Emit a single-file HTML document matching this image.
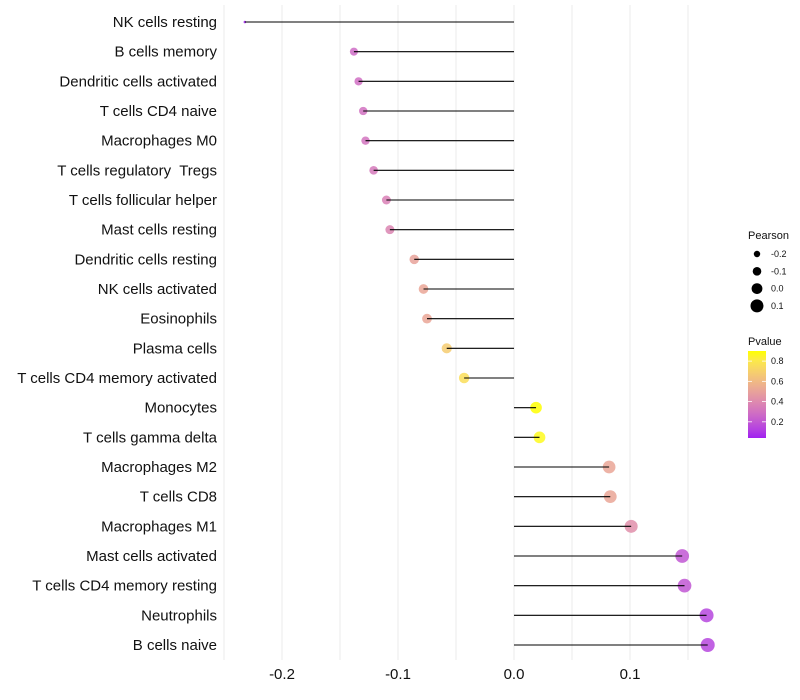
<!DOCTYPE html>
<html><head><meta charset="utf-8"><style>
body{margin:0;background:#fff;}
svg{display:block;font-family:"Liberation Sans",sans-serif;}
</style></head><body>
<svg id="chart" width="800" height="700">
<defs>
<linearGradient id="pgrad" x1="0" y1="1" x2="0" y2="0"></linearGradient>
</defs>
<g id="grid"></g>
<g id="marks"></g>
<g id="axes"></g>
<g id="legend"></g>
</svg>
<script>
const categories = ["NK cells resting","B cells memory","Dendritic cells activated","T cells CD4 naive","Macrophages M0","T cells regulatory  Tregs","T cells follicular helper","Mast cells resting","Dendritic cells resting","NK cells activated","Eosinophils","Plasma cells","T cells CD4 memory activated","Monocytes","T cells gamma delta","Macrophages M2","T cells CD8","Macrophages M1","Mast cells activated","T cells CD4 memory resting","Neutrophils","B cells naive"];
const pearson = [-0.232,-0.138,-0.134,-0.130,-0.128,-0.121,-0.110,-0.107,-0.086,-0.078,-0.075,-0.058,-0.043,0.019,0.022,0.082,0.083,0.101,0.145,0.147,0.166,0.167];
const pvalue = [0.04,0.28,0.29,0.30,0.31,0.33,0.36,0.38,0.50,0.52,0.52,0.68,0.76,0.90,0.88,0.52,0.52,0.42,0.20,0.20,0.14,0.14];
const xTicks = [-0.2,-0.1,0.0,0.1];
const xGrid = [-0.25,-0.2,-0.15,-0.1,-0.05,0,0.05,0.1,0.15];
const sizeLegendValues = [-0.2,-0.1,0.0,0.1];
const colorLegendValues = [0.2,0.4,0.6,0.8];

const NS="http://www.w3.org/2000/svg";
function mk(tag,attrs,parent){const e=document.createElementNS(NS,tag);for(const k in attrs)e.setAttribute(k,attrs[k]);parent.appendChild(e);return e;}
const x = v => 514 + v*1160;
const y = i => 22 + i*(623/21);
function toLab(r,g,b){const f=c=>{c/=255;return c<=0.04045?c/12.92:Math.pow((c+0.055)/1.055,2.4);};
 let R=f(r),G=f(g),B=f(b);let X=(R*0.4124+G*0.3576+B*0.1805)/0.95047,Y=R*0.2126+G*0.7152+B*0.0722,Z=(R*0.0193+G*0.1192+B*0.9505)/1.08883;
 const h=t=>t>0.008856?Math.cbrt(t):7.787*t+16/116;return [116*h(Y)-16,500*(h(X)-h(Y)),200*(h(Y)-h(Z))];}
function fromLab(L,a,bb){let fy=(L+16)/116,fx=fy+a/500,fz=fy-bb/200;const g=t=>t*t*t>0.008856?t*t*t:(t-16/116)/7.787;
 let X=g(fx)*0.95047,Y=g(fy),Z=g(fz)*1.08883;let R=X*3.2406+Y*-1.5372+Z*-0.4986,G=X*-0.9689+Y*1.8758+Z*0.0415,B=X*0.0557+Y*-0.2040+Z*1.0570;
 const c=v=>{v=v<=0.0031308?12.92*v:1.055*Math.pow(v,1/2.4)-0.055;return Math.max(0,Math.min(255,Math.round(v*255)));};return `rgb(${c(R)},${c(G)},${c(B)})`;}
const lowLab=toLab(160,32,240),highLab=toLab(255,255,0);
const pMin=0.04,pMax=0.9;
function col(p){let t=Math.max(0,Math.min(1,(p-pMin)/(pMax-pMin)));return fromLab(...lowLab.map((v,i)=>v+(highLab[i]-v)*t));}
const vMin=Math.min(...pearson),vMax=Math.max(...pearson);
function rad(v){let t=Math.max(0,(v-vMin)/(vMax-vMin));return 1.3+5.7*Math.sqrt(t);}

const grid=document.getElementById('grid');
xGrid.forEach(v=>{const l=mk('line',{x1:x(v),x2:x(v),y1:5,y2:660,stroke:'#ebebeb','stroke-width':1},grid);

});

const marks=document.getElementById('marks');
categories.forEach((c,i)=>{
 const g=mk('g',{},marks);
 
 
 const d=mk('circle',{cx:x(pearson[i]),cy:y(i),r:rad(pearson[i]),fill:col(pvalue[i]),'fill-opacity':0.85},g);
 
 
 const s=mk('line',{x1:x(0),x2:x(pearson[i]),y1:y(i),y2:y(i),stroke:'#000','stroke-width':1.1},g);
 
 
});

const axes=document.getElementById('axes');
categories.forEach((c,i)=>{const t=mk('text',{x:217,y:y(i)+5,'text-anchor':'end','font-size':15,fill:'#111','xml:space':'preserve'},axes);t.textContent=c;
t.style.whiteSpace='pre';

});
xTicks.forEach(v=>{const t=mk('text',{x:x(v),y:679,'text-anchor':'middle','font-size':15,fill:'#111'},axes);t.textContent=v.toFixed(1);

});

const lg=document.getElementById('legend');
let t=mk('text',{x:748,y:239,'font-size':11,fill:'#111'},lg);t.textContent='Pearson';


sizeLegendValues.forEach((v,i)=>{const yy=254+i*17.3;
 const c=mk('circle',{cx:757,cy:yy,r:3.2+i*1.1,fill:'#000'},lg);
 
 
 const tt=mk('text',{x:771,y:yy+3,'font-size':9,fill:'#111'},lg);tt.textContent=v.toFixed(1);
 
 });
t=mk('text',{x:748,y:345,'font-size':11,fill:'#111'},lg);t.textContent='Pvalue';


const grad=document.getElementById('pgrad');
for(let k=0;k<=10;k++){mk('stop',{offset:k/10,'stop-color':col(pMin+(pMax-pMin)*k/10)},grad);}
const barTop=351,barBot=438;
const py=p=>barBot-(p-pMin)/(pMax-pMin)*(barBot-barTop);
const bar=mk('rect',{x:748,y:barTop,width:18,height:barBot-barTop,fill:'url(#pgrad)'},lg);


colorLegendValues.forEach(p=>{
 mk('line',{x1:748,x2:752,y1:py(p),y2:py(p),stroke:'#fff','stroke-width':0.8},lg);
 mk('line',{x1:762,x2:766,y1:py(p),y2:py(p),stroke:'#fff','stroke-width':0.8},lg);
 const tt=mk('text',{x:771,y:py(p)+3,'font-size':9,fill:'#111'},lg);tt.textContent=p.toFixed(1);
 
 });
</script>
</body></html>
